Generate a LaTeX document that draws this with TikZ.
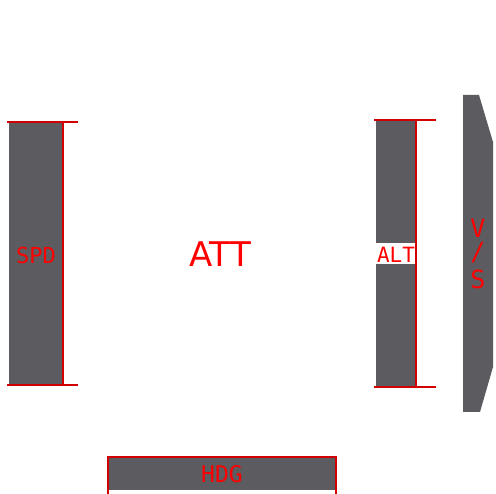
\documentclass[tikz,border=0pt]{standalone}
\usepackage{fontspec}
\setmainfont{DejaVu Sans}
\newfontfamily\hudfont{DejaVu Sans Mono}
\definecolor{tapegray}{RGB}{92,91,96}
\definecolor{tickred}{RGB}{210,0,0}
\tikzset{
  tape/.style={fill=tapegray},
  edge/.style={draw=tickred,line width=1.6pt},
  lbl/.style={text=red,inner sep=0pt}
}
\begin{document}
\begin{tikzpicture}[x=1pt,y=-1pt]
\useasboundingbox (0,0) rectangle (496,494);

% speed tape
\fill[tape] (9,122) rectangle (63,385);
\draw[edge] (7,122) -- (78,122);
\draw[edge] (63,122) -- (63,385);
\draw[edge] (7,385) -- (78,385);
\node[lbl,font=\hudfont\fontsize{22}{22}\selectfont] (spd) at (36,255) {SPD};

% attitude
\node[lbl,font=\fontsize{34}{34}\selectfont] (att) at (220,254) {ATT};

% altitude tape
\fill[tape] (376,120) rectangle (416,387);
\fill[white] (374,243) rectangle (416,264);
\draw[edge] (374,120) -- (436,120);
\draw[edge] (416,120) -- (416,387);
\draw[edge] (374,387) -- (436,387);
\node[lbl,font=\hudfont\fontsize{21}{21}\selectfont] (alt) at (396,255) {ALT};

% vertical speed
\fill[tape] (463,95) -- (479,95) -- (493,142) -- (493,367) -- (480,412) -- (463,412) -- cycle;
\node[lbl,font=\hudfont\fontsize{25}{25}\selectfont] (v) at (478,228) {V};
\node[lbl,font=\hudfont\fontsize{25}{25}\selectfont] (slash) at (478,253) {/};
\node[lbl,font=\hudfont\fontsize{25}{25}\selectfont] (s) at (478,279) {S};

% heading tape
\fill[tape] (108,457) rectangle (336,490);
\draw[edge] (108,494) -- (108,457) -- (336,457) -- (336,494);
\node[lbl,font=\hudfont\fontsize{23}{23}\selectfont] (hdg) at (222,474) {HDG};
\end{tikzpicture}
\end{document}
